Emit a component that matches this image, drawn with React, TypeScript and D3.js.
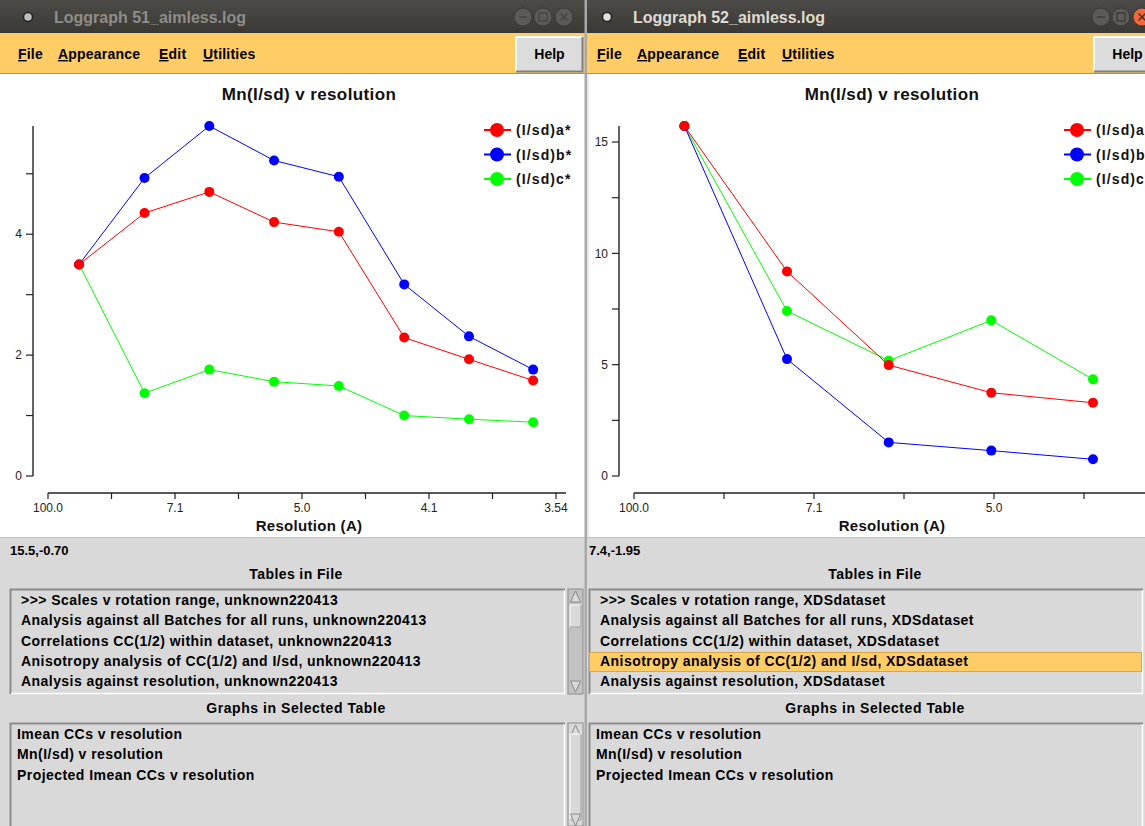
import React from 'react';
import * as d3 from 'd3';

// x values are 1/d^2 (bin centres), y is Mn(I/sd) along a*, b*, c*
const leftInvD2 = [0.0049, 0.0152, 0.0254, 0.0356, 0.0458, 0.0561, 0.0663, 0.0764];
const leftA = [3.5, 4.35, 4.7, 4.2, 4.04, 2.29, 1.93, 1.58];
const leftB = [3.5, 4.93, 5.79, 5.22, 4.95, 3.17, 2.31, 1.76];
const leftC = [3.5, 1.37, 1.76, 1.56, 1.49, 1.0, 0.94, 0.89];

const rightInvD2 = [0.0056, 0.017, 0.0283, 0.0397, 0.051];
const rightA = [15.72, 9.19, 4.98, 3.74, 3.29];
const rightB = [15.72, 5.25, 1.51, 1.14, 0.75];
const rightC = [15.72, 7.41, 5.18, 6.99, 4.34];

const leftXTicks = [0, 0.02, 0.04, 0.06, 0.08];
const leftXLabels = ['100.0', '7.1', '5.0', '4.1', '3.54'];
const leftXMinor = [0.01, 0.03, 0.05, 0.07];
const leftYTicks = [0, 2, 4];
const leftYMinor = [1, 3, 5];

const rightXTicks = [0, 0.02, 0.04, 0.06];
const rightXLabels = ['100.0', '7.1', '5.0', '4.1'];
const rightXMinor = [0.01, 0.03, 0.05];
const rightYTicks = [0, 5, 10, 15];
const rightYMinor = [2.5, 7.5, 12.5];

const seriesNames = ['(I/sd)a*', '(I/sd)b*', '(I/sd)c*'];
const seriesColors = ['#ff0000', '#0000ff', '#00ff00'];

const leftTables = [
  '>>> Scales v rotation range, unknown220413',
  'Analysis against all Batches for all runs, unknown220413',
  'Correlations CC(1/2) within dataset, unknown220413',
  'Anisotropy analysis of CC(1/2) and I/sd, unknown220413',
  'Analysis against resolution, unknown220413',
];
const rightTables = [
  '>>> Scales v rotation range, XDSdataset',
  'Analysis against all Batches for all runs, XDSdataset',
  'Correlations CC(1/2) within dataset, XDSdataset',
  'Anisotropy analysis of CC(1/2) and I/sd, XDSdataset',
  'Analysis against resolution, XDSdataset',
];
const graphNames = ['Imean CCs v resolution', 'Mn(I/sd) v resolution', 'Projected Imean CCs v resolution'];

const FONT = '"Liberation Sans", Arial, Helvetica, sans-serif';
const PANEL = '#d9d9d9';

function TitleBar({ x0, x1, ox, title, active }: any) {
  const btn = [x1 - 62, x1 - 42, x1 - 21];
  return (
    <g>
      <rect x={x0} y={0} width={x1 - x0} height={33} fill="url(#tbar)" />
      <circle cx={ox + 20} cy={17} r={4.5} fill={active ? '#e0e0e0' : '#bdbdbd'} stroke="#222" strokeWidth={1.5} />
      <text x={ox + 46} y={23} fontSize={16} fontWeight="bold" fill={active ? '#dfdbd2' : '#8f8d88'}>{title}</text>
      {btn.map((bx, i) => (
        <g key={i}>
          <circle cx={bx} cy={17} r={9} fill={i === 2 && active ? '#ee6a3a' : '#5c5b57'} stroke="#3a3935" />
          {i === 0 && <line x1={bx - 4} x2={bx + 4} y1={17} y2={17} stroke={active ? '#3c3b37' : '#444'} strokeWidth={1.5} />}
          {i === 1 && <rect x={bx - 4} y={13} width={8} height={8} fill="none" stroke={active ? '#3c3b37' : '#444'} strokeWidth={1.3} />}
          {i === 2 && <path d={`M${bx - 3.5},13.5L${bx + 3.5},20.5M${bx + 3.5},13.5L${bx - 3.5},20.5`} stroke={active ? '#5a2a1a' : '#444'} strokeWidth={1.5} />}
        </g>
      ))}
    </g>
  );
}

function MenuBar({ x0, x1, ox }: any) {
  const items = [['F', 'ile', 10], ['A', 'ppearance', 50], ['E', 'dit', 151], ['U', 'tilities', 195]];
  return (
    <g>
      <rect x={x0} y={33} width={x1 - x0} height={41} fill="#ffcc66" />
      <line x1={x0} x2={x1} y1={73.5} y2={73.5} stroke="#b8924a" />
      {items.map(([a, b, dx]: any) => (
        <text key={a} x={ox + dx} y={59} fontSize={14} fontWeight="bold" fill="#000" letterSpacing={0.2}>
          <tspan textDecoration="underline">{a}</tspan>{b}
        </text>
      ))}
      <rect x={x1 - 69} y={37} width={67} height={35} fill="#dcdcdc" />
      <path d={`M${x1 - 69},72V37H${x1 - 2}`} fill="none" stroke="#ffffff" strokeWidth={2} />
      <path d={`M${x1 - 69},71.5H${x1 - 2.5}V37`} fill="none" stroke="#808080" strokeWidth={2} />
      <text x={x1 - 35.5} y={59} fontSize={14} fontWeight="bold" textAnchor="middle">Help</text>
    </g>
  );
}

function Chart({ xs, series, x, y, xTicks, xLabels, xMinor, yTicks, yMinor, yAxisX, xAxisY, xAxisEnd, titleX, legendX }: any) {
  const line = d3.line<number>().x((_, i) => x(xs[i])).y((d) => y(d));
  const order = [2, 1, 0];
  return (
    <g>
      <text x={titleX} y={100} fontSize={17} fontWeight="bold" letterSpacing={0.4} textAnchor="middle" fill="#111">Mn(I/sd) v resolution</text>
      {/* y axis */}
      <line x1={yAxisX} x2={yAxisX} y1={y(0)} y2={y.range()[1]} stroke="#222" strokeWidth={1.4} />
      {[...yTicks, ...yMinor].map((t: number) => (
        <line key={'yt' + t} x1={yAxisX - 7} x2={yAxisX} y1={y(t)} y2={y(t)} stroke="#222" strokeWidth={1.2} />
      ))}
      {yTicks.map((t: number) => (
        <text key={'yl' + t} x={yAxisX - 11} y={y(t)} dy="0.35em" fontSize={12} textAnchor="end" fill="#222">{String(t)}</text>
      ))}
      {/* x axis */}
      <line x1={x(0)} x2={xAxisEnd} y1={xAxisY} y2={xAxisY} stroke="#222" strokeWidth={1.4} />
      {[...xTicks, ...xMinor].map((t: number) => (
        <line key={'xt' + t} x1={x(t)} x2={x(t)} y1={xAxisY} y2={xAxisY + 6} stroke="#222" strokeWidth={1.2} />
      ))}
      {xTicks.map((t: number, i: number) => (
        <text key={'xl' + t} x={x(t)} y={512} fontSize={12} textAnchor="middle" fill="#222">{xLabels[i]}</text>
      ))}
      <text x={titleX} y={531} fontSize={15} fontWeight="bold" letterSpacing={0.3} textAnchor="middle" fill="#111">Resolution (A)</text>
      {order.map((k) => (
        <g key={'s' + k}>
          <path d={line(series[k]) || ''} fill="none" stroke={seriesColors[k]} strokeWidth={1} />
          {series[k].map((v: number, i: number) => (
            <circle key={i} cx={x(xs[i])} cy={y(v)} r={5} fill={seriesColors[k]} />
          ))}
        </g>
      ))}
      {seriesNames.map((n, k) => (
        <g key={n}>
          <line x1={legendX} x2={legendX + 27} y1={130 + k * 24.5} y2={130 + k * 24.5} stroke={seriesColors[k]} strokeWidth={2} />
          <circle cx={legendX + 13} cy={130 + k * 24.5} r={7} fill={seriesColors[k]} />
          <text x={legendX + 32} y={135 + k * 24.5} fontSize={14} fontWeight="bold" letterSpacing={1.1} fill="#111">{n}</text>
        </g>
      ))}
    </g>
  );
}

function Sunken({ x, y, w, h }: any) {
  return (
    <g>
      <rect x={x} y={y} width={w} height={h} fill={PANEL} />
      <path d={`M${x + 0.5},${y + h}V${y + 0.5}H${x + w}`} fill="none" stroke="#8c8c8c" strokeWidth={2} />
      <path d={`M${x + 1},${y + h - 0.5}H${x + w - 0.5}V${y + 1}`} fill="none" stroke="#ffffff" strokeWidth={1.5} />
    </g>
  );
}

function ScrollBar({ x, y, h, thumbY, thumbH, track }: any) {
  const w = 15;
  const bottom = y + h >= 826;
  return (
    <g>
      <rect x={x} y={y} width={w} height={h} fill={track} stroke="#8c8c8c" />
      <polygon points={`${x + 2.5},${y + 13} ${x + w - 2.5},${y + 13} ${x + w / 2},${y + 2}`} fill={PANEL} stroke="#8a8a8a" />
      <rect x={x + 2} y={thumbY} width={w - 4} height={thumbH} fill={PANEL} stroke="#ffffff" />
      <path d={`M${x + 2},${thumbY + thumbH}H${x + w - 2}V${thumbY}`} fill="none" stroke="#8a8a8a" />
      <polygon points={bottom
        ? `${x + 2.5},${y + h - 12} ${x + w - 2.5},${y + h - 12} ${x + w / 2},${y + h}`
        : `${x + 2.5},${y + h - 13} ${x + w - 2.5},${y + h - 13} ${x + w / 2},${y + h - 2}`}
        fill={PANEL} stroke="#8a8a8a" />
    </g>
  );
}

function LowerPanel({ x0, x1, ox, coord, tables, highlight, hasScroll, rowX, graphX }: any) {
  const boxR = hasScroll ? x1 - 20 : x1 - 2;
  return (
    <g>
      <rect x={x0} y={537} width={x1 - x0} height={289} fill={PANEL} />
      <line x1={x0} x2={x1} y1={537.5} y2={537.5} stroke="#c4c4c4" />
      <text x={ox + 2} y={555} fontSize={13} fontWeight="bold">{coord}</text>
      <text x={ox + 288} y={579} fontSize={14} fontWeight="bold" letterSpacing={0.4} textAnchor="middle">Tables in File</text>
      <Sunken x={ox + 2} y={589} w={boxR - ox - 2} h={105} />
      {highlight >= 0 && (
        <rect x={ox + 2.5} y={652.5} width={boxR - ox - 4} height={19} fill="#ffcc66" stroke="#d8a548" />
      )}
      {tables.map((t: string, i: number) => (
        <text key={t} x={rowX} y={605 + i * 20.3} fontSize={14} fontWeight="bold" letterSpacing={0.45}>{t}</text>
      ))}
      <text x={ox + 288} y={713} fontSize={14} fontWeight="bold" letterSpacing={0.55} textAnchor="middle">Graphs in Selected Table</text>
      <Sunken x={ox + 2} y={723} w={boxR - ox - 2} h={110} />
      {graphNames.map((g, i) => (
        <text key={g} x={graphX} y={738.5 + i * 20.5} fontSize={14} fontWeight="bold" letterSpacing={0.45}>{g}</text>
      ))}
      {hasScroll && <ScrollBar x={x1 - 17} y={589} h={105} thumbY={605} thumbH={22} track="#c2c2c2" />}
      {hasScroll && <ScrollBar x={x1 - 17} y={723} h={103} thumbY={734} thumbH={86} track={PANEL} />}
    </g>
  );
}

export default function App() {
  const leftMax = d3.max([...leftA, ...leftB, ...leftC]) as number;
  const rightMax = d3.max([...rightA, ...rightB, ...rightC]) as number;

  const lx = d3.scaleLinear().domain([0, 0.08]).range([48, 556]);
  const ly = d3.scaleLinear().domain([0, leftMax]).range([476, 126]);
  const rx = d3.scaleLinear().domain([0, 0.06]).range([634, 1174]);
  const ry = d3.scaleLinear().domain([0, rightMax]).range([476, 126]);

  return (
    <div style={{ position: 'absolute', left: 0, top: 0 }}>
      <svg width={1145} height={826} style={{ display: 'block', fontFamily: FONT }}>
        <defs>
          <linearGradient id="tbar" x1="0" x2="0" y1="0" y2="1">
            <stop offset="0" stopColor="#4c4b47" />
            <stop offset="1" stopColor="#3a3935" />
          </linearGradient>
          <clipPath id="rclip">
            <rect x={587} y={0} width={558} height={826} />
          </clipPath>
        </defs>
        <rect x={0} y={0} width={1145} height={826} fill="#ffffff" />

        {/* left window */}
        <TitleBar x0={0} x1={585} ox={8} title="Loggraph 51_aimless.log" active={false} />
        <MenuBar x0={0} x1={585} ox={8} />
        <rect x={0} y={74} width={585} height={463} fill="#ffffff" />
        <Chart xs={leftInvD2} series={[leftA, leftB, leftC]} x={lx} y={ly}
          xTicks={leftXTicks} xLabels={leftXLabels} xMinor={leftXMinor}
          yTicks={leftYTicks} yMinor={leftYMinor} yAxisX={33} xAxisY={493} xAxisEnd={566}
          titleX={309} legendX={484} />
        <LowerPanel x0={0} x1={585} ox={8} coord="15.5,-0.70" tables={leftTables} highlight={-1}
          hasScroll={true} rowX={21} graphX={17} />

        {/* separator */}
        <rect x={584.5} y={0} width={2.5} height={826} fill="#a9a9a9" />

        {/* right window, cut off by the screen edge */}
        <g clipPath="url(#rclip)">
          <TitleBar x0={587} x1={1163} ox={587} title="Loggraph 52_aimless.log" active={true} />
          <MenuBar x0={587} x1={1163} ox={587} />
          <rect x={587} y={74} width={576} height={463} fill="#ffffff" />
          <line x1={588} x2={588} y1={74} y2={537} stroke="#d0d0d0" />
          <Chart xs={rightInvD2} series={[rightA, rightB, rightC]} x={rx} y={ry}
            xTicks={rightXTicks} xLabels={rightXLabels} xMinor={rightXMinor}
            yTicks={rightYTicks} yMinor={rightYMinor} yAxisX={619} xAxisY={493} xAxisEnd={1190}
            titleX={892} legendX={1064} />
          <LowerPanel x0={587} x1={1145} ox={587} coord="7.4,-1.95" tables={rightTables} highlight={3}
            hasScroll={false} rowX={600} graphX={596} />
        </g>
      </svg>
    </div>
  );
}
